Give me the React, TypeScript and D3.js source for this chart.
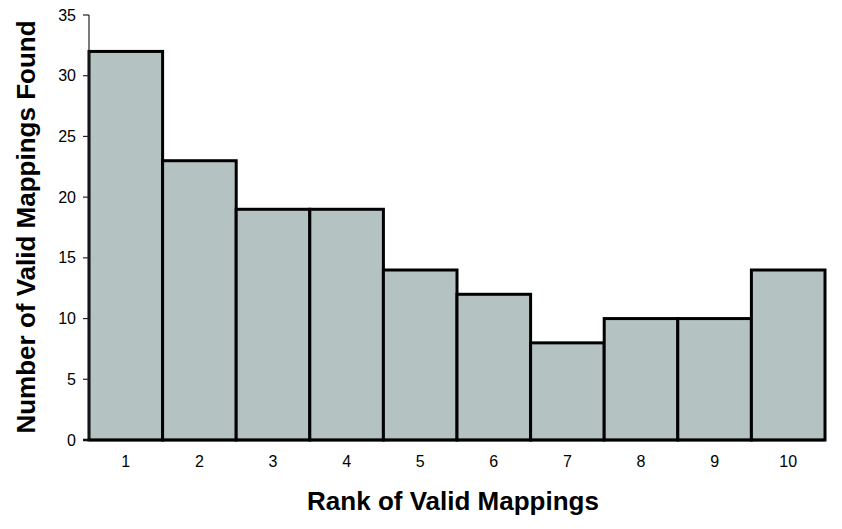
import React from "react";
import * as d3 from "d3";

const categories = ["1", "2", "3", "4", "5", "6", "7", "8", "9", "10"];
const counts = [32, 23, 19, 19, 14, 12, 8, 10, 10, 14];
const yTicks = [0, 5, 10, 15, 20, 25, 30, 35];

const W = 842;
const H = 529;
const M = { left: 89, right: 17, top: 15, bottom: 89 };

export default function App() {
  const x = d3
    .scaleBand<string>()
    .domain(categories)
    .range([M.left, W - M.right])
    .padding(0);
  const y = d3
    .scaleLinear()
    .domain([0, 35])
    .range([H - M.bottom, M.top]);
  const font = "Arial, 'Liberation Sans', sans-serif";
  return (
    <svg
      width={W}
      height={H}
      style={{ position: "absolute", left: 0, top: 0, background: "#fff" }}
    >
      {counts.map((v, i) => (
        <rect
          key={i}
          x={x(categories[i])!}
          y={y(v)}
          width={x.bandwidth()}
          height={y(0) - y(v)}
          fill="#b4c3c1"
          stroke="#000"
          strokeWidth={3}
        />
      ))}
      <line x1={M.left} x2={M.left} y1={y(35)} y2={y(0)} stroke="#222" strokeWidth={1.2} />
      <line x1={M.left - 6} x2={W - M.right} y1={y(0)} y2={y(0)} stroke="#000" strokeWidth={2.5} />
      {yTicks.map((t) => (
        <g key={t}>
          <line x1={M.left - 6} x2={M.left} y1={y(t)} y2={y(t)} stroke="#222" strokeWidth={1.2} />
          <text
            x={M.left - 13}
            y={y(t)}
            dy="0.35em"
            textAnchor="end"
            fontFamily={font}
            fontSize={16}
            fill="#000"
          >
            {t}
          </text>
        </g>
      ))}
      {categories.map((c) => (
        <text
          key={c}
          x={x(c)! + x.bandwidth() / 2}
          y={467}
          textAnchor="middle"
          fontFamily={font}
          fontSize={16}
          fill="#000"
        >
          {c}
        </text>
      ))}
      <text
        x={453}
        y={510}
        textAnchor="middle"
        fontFamily={font}
        fontSize={26}
        fontWeight="bold"
        fill="#000"
      >
        Rank of Valid Mappings
      </text>
      <text
        transform={`translate(35,227) rotate(-90)`}
        textAnchor="middle"
        fontFamily={font}
        fontSize={26}
        fontWeight="bold"
        fill="#000"
      >
        Number of Valid Mappings Found
      </text>
    </svg>
  );
}
